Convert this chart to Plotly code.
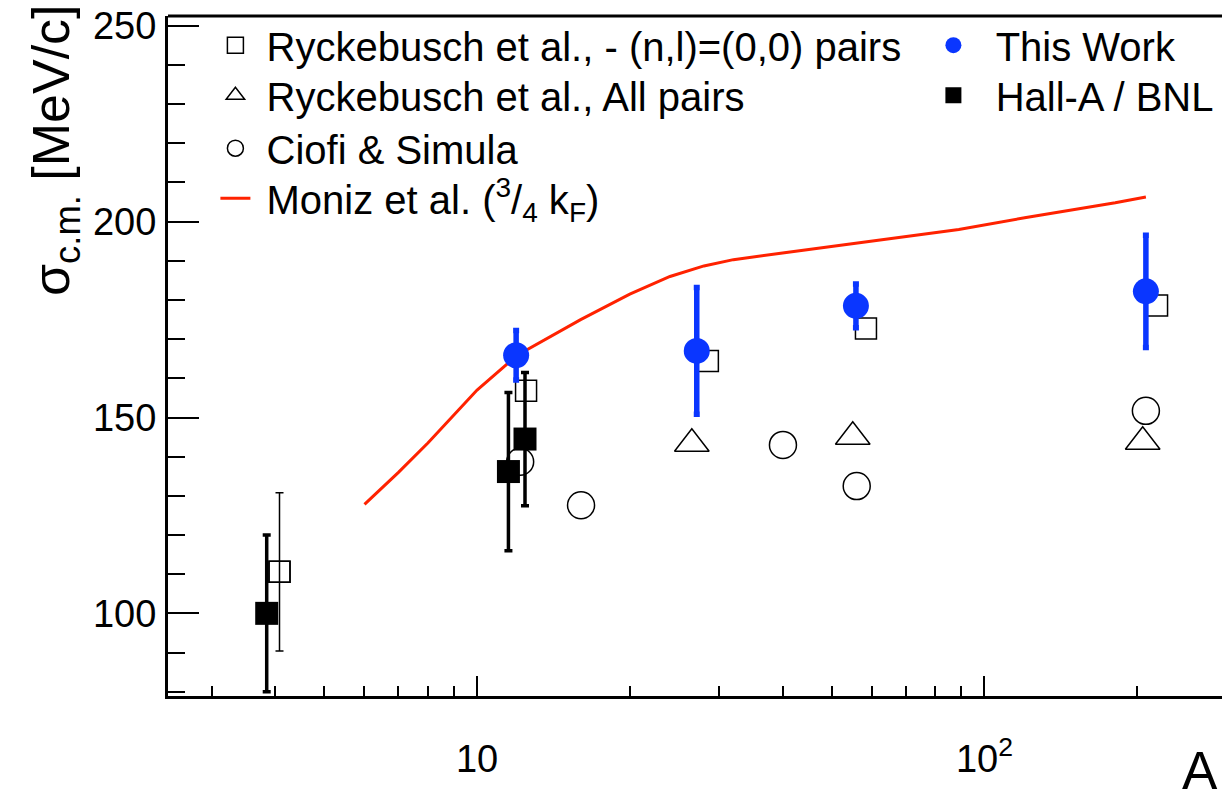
import numpy as np
import plotly.graph_objects as go

# ---------------- data ----------------
ryck00_A = [4.08, 12.49, 28.5, 58.4, 218.8]
ryck00_sig = [110.6, 156.8, 164.4, 172.7, 178.6]
ryck00_err = [20.2, 0, 0, 0, 0]

ryckall_A = [26.5, 55.0, 205.0]
ryckall_sig = [143.3, 145.1, 143.8]

ciofi_A = [12.16, 16.03, 40.07, 56.0, 208.0]
ciofi_sig = [138.7, 127.6, 143.0, 132.5, 151.7]

moniz_A = [6, 7, 8, 10, 12, 16, 20, 24, 28, 32, 40, 56, 89, 120, 181, 208]
moniz_sig = [127.8, 136.0, 143.5, 157.0, 165.9, 175.0, 181.5, 186.0, 188.7, 190.3,
             192.0, 194.5, 198.0, 201.0, 204.8, 206.3]

thiswork_A = [11.94, 27.1, 55.8, 208.0]
thiswork_sig = [165.9, 167.0, 178.5, 182.2]
thiswork_err = [6.3, 16.2, 5.6, 14.3]

hallA_A = [3.85, 11.53, 12.43]
hallA_sig = [100.0, 136.2, 144.5]
hallA_err = [20.0, 20.2, 17.0]

x_major = [10, 100]
x_major_text = ["10", "10<sup>2</sup>"]
x_minor = [3, 4, 5, 6, 7, 8, 9, 20, 30, 40, 50, 60, 70, 80, 90, 200, 300]
y_major = [100, 150, 200, 250]
y_minor = [80, 90, 110, 120, 130, 140, 160, 170, 180, 190, 210, 220, 230, 240]

FONT = "Liberation Sans, Arial, Helvetica, sans-serif"
BLUE = "#0a36ff"
RED = "#ff2200"
NB = "\u00a0"

# plot-area geometry in pixels (for placing legends / free text)
L, R, T, B = 168, 1222, 16, 696
def px_x(p):
    return (p - L) / (R - L)
def px_y(p):
    return (B - p) / (B - T)

fig = go.Figure()

# Ciofi & Simula (open circles)
fig.add_trace(go.Scatter(
    x=ciofi_A, y=ciofi_sig, mode="markers", name=NB + "Ciofi & Simula",
    legend="legend3",
    marker=dict(symbol="circle-open", size=27, color="black", line=dict(width=1.5))))

# Ryckebusch all pairs (open triangles)
fig.add_trace(go.Scatter(
    x=ryckall_A, y=ryckall_sig, mode="markers", name=NB + "Ryckebusch et al., All pairs",
    legend="legend2",
    marker=dict(symbol="triangle-up-open", size=30, color="black", line=dict(width=1.5))))

# Ryckebusch (n,l)=(0,0) (open squares)
fig.add_trace(go.Scatter(
    x=ryck00_A, y=ryck00_sig, mode="markers",
    name=NB + "Ryckebusch et al., - (n,l)=(0,0) pairs",
    legend="legend",
    marker=dict(symbol="square-open", size=21, color="black", line=dict(width=1.5))))
e = np.array(ryck00_err)
m = e > 0
fig.add_trace(go.Scatter(
    x=np.array(ryck00_A)[m], y=np.array(ryck00_sig)[m], mode="markers",
    showlegend=False,
    marker=dict(symbol="square-open", size=21, color="black", line=dict(width=1.5)),
    error_y=dict(type="data", array=e[m], color="black", thickness=1.5, width=4)))

# Hall-A / BNL (filled squares)
fig.add_trace(go.Scatter(
    x=hallA_A, y=hallA_sig, mode="markers", name=NB + NB + "Hall-A / BNL",
    legend="legend6",
    marker=dict(symbol="square", size=23, color="black"),
    error_y=dict(type="data", array=hallA_err, color="black", thickness=3.5, width=4)))

# Moniz et al. (line)
fig.add_trace(go.Scatter(
    x=moniz_A, y=moniz_sig, mode="lines",
    name=NB + "Moniz et al. (<sup>3</sup>/<sub>4</sub> k<sub>F</sub>)",
    legend="legend4",
    line=dict(color=RED, width=3)))

# This Work (blue filled circles)
fig.add_trace(go.Scatter(
    x=thiswork_A, y=thiswork_sig, mode="markers", name=NB + NB + "This Work",
    legend="legend5",
    marker=dict(symbol="circle", size=26, color=BLUE),
    error_y=dict(type="data", array=thiswork_err, color=BLUE, thickness=5.5, width=3)))

LEG_FS = 40
OFF = 34.3  # distance from legend top to row centre at this font size

def leg(xsym, ycen):
    return dict(x=px_x(xsym - 21.6), y=px_y(ycen - OFF), xanchor="left", yanchor="top",
                bgcolor="rgba(0,0,0,0)", font=dict(size=LEG_FS), itemsizing="trace",
                tracegroupgap=0)

fig.update_layout(
    width=1222, height=803,
    margin=dict(l=L, r=1222 - R, t=T, b=803 - B),
    paper_bgcolor="white", plot_bgcolor="white",
    font=dict(family=FONT, size=38, color="black"),
    showlegend=True,
    legend=leg(237, 47),
    legend2=leg(237, 97),
    legend3=leg(237, 150),
    legend4=leg(237, 200),
    legend5=leg(955, 47),
    legend6=leg(955, 97),
    xaxis=dict(type="log", range=[np.log10(2.46), np.log10(293.8)],
               showline=True, linewidth=3, linecolor="black", mirror=False,
               showgrid=False, zeroline=False,
               ticks="inside", ticklen=20, tickwidth=2, tickcolor="black",
               tickmode="array", tickvals=x_major, ticktext=x_major_text,
               tickfont=dict(size=38), ticklabelstandoff=27,
               minor=dict(ticks="inside", ticklen=10, tickwidth=2, tickcolor="black",
                          tickmode="array", tickvals=x_minor)),
    yaxis=dict(range=[78.9, 252.5],
               showline=True, linewidth=3, linecolor="black", mirror=False,
               showgrid=False, zeroline=False,
               ticks="inside", ticklen=31, tickwidth=2, tickcolor="black",
               tickmode="array", tickvals=y_major,
               tickfont=dict(size=38), ticklabelstandoff=1,
               minor=dict(ticks="inside", ticklen=17, tickwidth=2, tickcolor="black",
                          tickmode="array", tickvals=y_minor)),
    shapes=[dict(type="line", xref="paper", yref="paper", x0=0, x1=1, y0=1, y1=1,
                 line=dict(color="black", width=3))],
    annotations=[
        dict(text="σ<sub>c.m.</sub> [MeV/c]", textangle=-90, xref="paper", yref="paper",
             x=px_x(55), y=px_y(150), xanchor="center", yanchor="middle",
             showarrow=False, font=dict(size=52)),
        dict(text="A", xref="paper", yref="paper",
             x=px_x(1180), y=px_y(770), xanchor="left", yanchor="middle",
             showarrow=False, font=dict(size=53)),
    ],
)

fig.write_html("out.html")
